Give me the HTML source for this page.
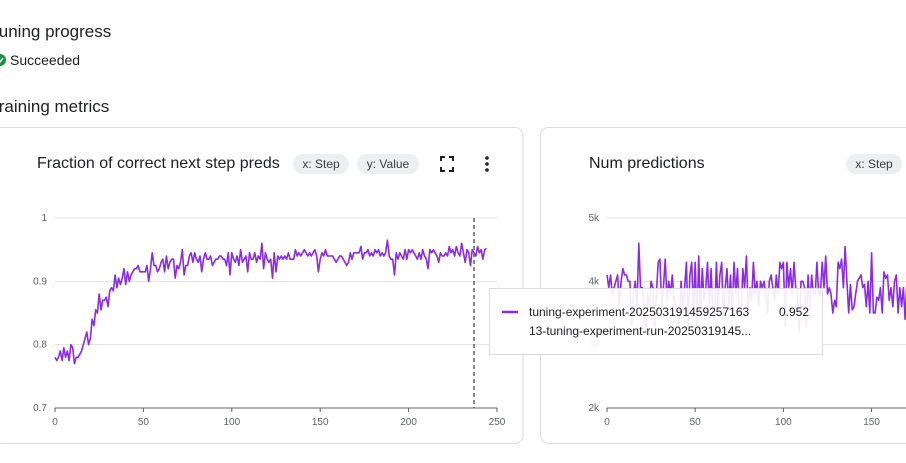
<!DOCTYPE html>
<html><head><meta charset="utf-8"><style>
body{margin:0;width:906px;height:463px;overflow:hidden;background:#fff;font-family:"Liberation Sans",sans-serif;}
svg{display:block}
</style></head><body>
<svg id="s" width="906" height="463" font-family="Liberation Sans, sans-serif">
<text x="-11" y="37" font-size="17" fill="#202124">Tuning progress</text>
<circle cx="0" cy="60" r="6" fill="#1e8e3e"/>
<path d="M-2 60 l2 2 l3 -4" stroke="#fff" stroke-width="1.5" fill="none"/>
<text x="10" y="65" font-size="14" fill="#202124">Succeeded</text>
<text x="-11" y="112" font-size="17" fill="#202124">Training metrics</text>

<rect x="-6" y="127.5" width="529" height="316" rx="8" fill="#fff" stroke="#dadce0"/>
<rect x="540.5" y="127.5" width="380" height="316" rx="8" fill="#fff" stroke="#dadce0"/>

<text x="37" y="168" font-size="16" fill="#202124">Fraction of correct next step preds</text>
<rect x="293" y="154" width="56" height="20" rx="10" fill="#eceef1"/>
<text x="321" y="168" font-size="12" fill="#3c4043" text-anchor="middle">x: Step</text>
<rect x="357" y="154" width="62" height="20" rx="10" fill="#eceef1"/>
<text x="388" y="168" font-size="12" fill="#3c4043" text-anchor="middle">y: Value</text>
<g stroke="#202124" stroke-width="2" fill="none">
<path d="M441 161v-4h4M449 157h4v4M453 167v4h-4M445 171h-4v-4"/></g>
<g fill="#202124">
<circle cx="487" cy="158" r="1.8"/><circle cx="487" cy="164" r="1.8"/><circle cx="487" cy="170" r="1.8"/></g>

<text x="589" y="168" font-size="16" fill="#202124">Num predictions</text>
<rect x="846" y="154" width="56" height="20" rx="10" fill="#eceef1"/>
<text x="874" y="168" font-size="12" fill="#3c4043" text-anchor="middle">x: Step</text>

<g id="c1"></g><g id="c2"></g>

<g>
<rect x="489.5" y="288.5" width="333" height="66" fill="rgba(255,255,255,0.9)" stroke="#dadce0"/>
<line x1="502" y1="312" x2="518" y2="312" stroke="#8a2be2" stroke-width="2.5"/>
<text x="529" y="316" font-size="12" fill="#202124">tuning-experiment-202503191459257163</text>
<text x="779" y="316" font-size="12" fill="#202124">0.952</text>
<text x="529" y="335" font-size="12" fill="#202124">13-tuning-experiment-run-20250319145...</text>
</g>
</svg>
<script>
const steps1Values=[.78,.775,.78,.79,.775,.795,.78,.79,.775,.80,
.795,.77,.78,.78,.785,.79,.80,.81,.82,.80,
.81,.84,.83,.855,.85,.88,.855,.87,.87,.875,
.86,.885,.89,.885,.91,.89,.905,.895,.905,.92,
.895,.915,.90,.91,.915,.92,.92,.925,.915,.915,
.915,.915,.925,.90,.92,.945,.925,.925,.915,.92,
.93,.935,.915,.94,.92,.93,.935,.935,.905,.925,
.92,.93,.95,.91,.925,.925,.94,.945,.93,.945,
.935,.93,.94,.915,.935,.945,.935,.935,.94,.925,
.93,.935,.935,.94,.94,.935,.935,.925,.945,.91,
.945,.935,.93,.94,.925,.95,.93,.935,.94,.915,
.945,.935,.935,.945,.93,.94,.935,.96,.92,.945,
.935,.93,.935,.905,.945,.915,.94,.935,.94,.935,
.94,.935,.945,.935,.935,.935,.95,.94,.945,.94,
.945,.95,.945,.94,.945,.94,.945,.95,.94,.915,
.935,.945,.94,.95,.94,.94,.94,.94,.935,.93,
.935,.94,.94,.935,.93,.925,.93,.945,.935,.945,
.945,.945,.945,.955,.935,.945,.945,.95,.94,.945,
.94,.95,.945,.95,.94,.945,.94,.945,.965,.94,
.935,.935,.91,.945,.935,.945,.94,.935,.95,.935,
.95,.945,.95,.945,.94,.935,.945,.935,.95,.94,
.935,.92,.95,.945,.95,.945,.94,.93,.945,.94,
.94,.945,.94,.955,.945,.95,.94,.955,.945,.94,
.96,.945,.93,.95,.945,.925,.95,.945,.94,.955,
.945,.95,.935,.95,.952];
const yTicks1=[0.7,0.8,0.9,1];
const yTickLabels1=["0.7","0.8","0.9","1"];
const xTicks=[0,50,100,150,200,250];
const steps2Values=[4.1,3.9,4.1,3.8,3.9,4.0,4.1,3.6,4.0,4.2,
4.1,4.1,4.0,4.0,3.3,3.8,4.0,3.6,4.6,3.9,
3.9,3.5,3.2,3.8,3.6,4.0,3.9,3.3,3.8,4.3,
4.35,3.6,3.9,4.35,3.7,4.0,3.8,4.1,3.7,3.6,
3.5,3.3,4.0,3.6,3.9,4.3,3.3,4.1,4.3,3.5,
4.3,3.3,4.4,3.5,4.2,3.7,3.9,4.3,3.6,4.2,
3.5,3.4,4.3,3.6,4.1,4.3,3.4,3.9,4.2,3.6,
4.1,3.5,4.3,3.8,4.2,3.5,3.4,4.2,3.9,4.4,
3.6,3.9,3.7,4.3,3.8,4.0,3.6,4.0,3.9,4.0,
3.8,3.5,4.0,4.1,3.9,3.7,4.1,3.8,4.3,4.2,
4.3,3.3,4.3,3.9,4.2,3.8,4.3,3.9,3.8,3.2,
4.0,4.0,3.9,3.3,4.1,3.6,4.1,3.8,3.8,4.3,
3.8,3.8,4.3,3.9,4.4,3.8,3.9,3.8,3.5,3.7,
3.6,4.3,4.2,4.35,3.9,4.55,4.0,3.5,3.95,3.55,
3.6,3.8,4.0,4.05,4.1,3.9,3.95,3.6,4.0,3.5,
4.45,3.5,3.5,3.75,3.7,3.9,3.5,4.15,4.05,4.1,
3.7,3.9,3.6,4.0,4.1,3.5,3.9,3.6,3.9,3.4,
4.0,3.7,3.9,3.5,4.1];
const yTicks2=[2,3,4,5];
const yTickLabels2=["2k","3k","4k","5k"];

const NS="http://www.w3.org/2000/svg";
function mk(parent,tag,attrs){const e=document.createElementNS(NS,tag);for(const k in attrs)e.setAttribute(k,attrs[k]);parent.appendChild(e);return e;}
function drawChart(g,x0,x1,xmax,ymin,ymax,yTop,yBot,yt,ytl,vals,clipRight,name){
  const xs=v=>x0+(v/xmax)*(x1-x0);
  const ys=v=>yBot-(v-ymin)/(ymax-ymin)*(yBot-yTop);
  yt.forEach((t,i)=>{
    if(i>0){const l=mk(g,'line',{x1:x0,x2:clipRight,y1:ys(t),y2:ys(t),stroke:'#e0e0e0'});
    
    }
    const tx=mk(g,'text',{x:x0-8,y:ys(t)+3,'font-size':10,fill:'#5f6368','text-anchor':'end'});tx.textContent=ytl[i];
    
    
  });
  const ax=mk(g,'line',{x1:x0,x2:Math.min(x1,clipRight),y1:yBot,y2:yBot,stroke:'#5f6368'});
  
  
  xTicks.forEach(t=>{
    const px=xs(t); if(px>clipRight)return;
    mk(g,'line',{x1:px,x2:px,y1:yBot,y2:yBot+4,stroke:'#5f6368'});
    const tx=mk(g,'text',{x:px,y:yBot+17,'font-size':10,fill:'#5f6368','text-anchor':'middle'});tx.textContent=t;
    
    
  });
  const pts=vals.map((v,i)=>xs(i).toFixed(1)+','+ys(v).toFixed(1)).join(' ');
  const pl=mk(g,'polyline',{points:pts,fill:'none',stroke:'#8a2be2','stroke-width':1.6,'stroke-linejoin':'round'});
  
  
  return {xs,ys};
}
const c1=document.getElementById('c1');
const a1=drawChart(c1,55,497,250,0.7,1,218,408,yTicks1,yTickLabels1,steps1Values,497,'series-line-fraction');
const hoverStep=237;
const dl=mk(c1,'line',{x1:a1.xs(hoverStep),x2:a1.xs(hoverStep),y1:218,y2:408,stroke:'#616161','stroke-width':1.5,'stroke-dasharray':'4,3'});


const c2=document.getElementById('c2');
drawChart(c2,607,1048,250,2,5,218,408,yTicks2,yTickLabels2,steps2Values,906,'series-line-num-predictions');
</script>
</body></html>
